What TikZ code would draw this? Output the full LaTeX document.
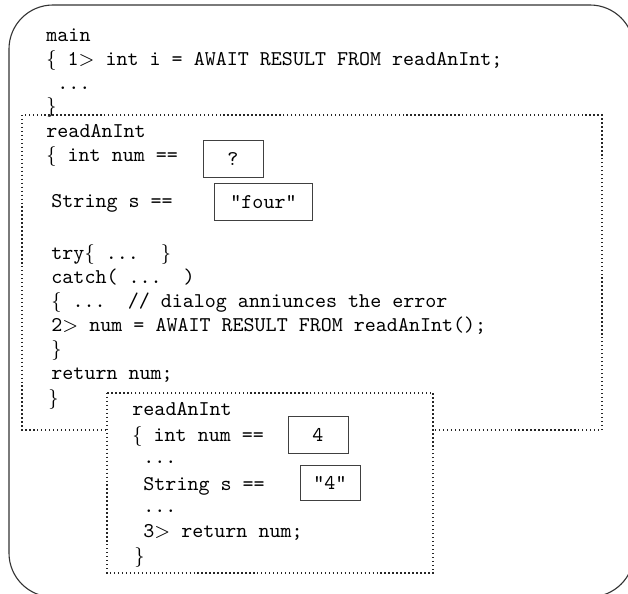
\documentclass[tikz,border=0pt]{standalone}
\usepackage{fontspec}
\newcommand\codefont{\fontsize{9.5}{11}\selectfont\ttfamily}
\begin{document}
\begin{tikzpicture}[x=0.4525pt,y=-0.4525pt,
  code/.style={anchor=base west,inner sep=0pt,font=\codefont},
  frame/.style={draw=black!80,line width=0.5pt},
  dotframe/.style={draw=black!85,line width=0.6pt,dash pattern=on 0.6pt off 1.2pt},
  valbox/.style={draw=black!75,line width=0.45pt,inner sep=0pt,font=\codefont,
    minimum height=16.3pt}]
\useasboundingbox (0,0) rectangle (628,594);
\clip (0,0) rectangle (628,594);

% outer frame (runs past the right and bottom edges)
\draw[frame,rounded corners=19.9pt] (9,5) rectangle (634,597);

% main
\node[code] (m1) at (46,42) {main};
\node[code] (m2) at (46,65.5) {$\{$ 1$>$ int i = AWAIT RESULT FROM readAnInt;};
\node[code] (m3) at (57,89) {...};
\node[code] (m4) at (46,112.5) {$\}$};

% first call of readAnInt
\draw[dotframe] (22,115) rectangle (602,430);
\node[code] (a1) at (46,138) {readAnInt};
\node[code] (a2) at (46,161) {$\{$ int num ==};
\node[valbox,minimum width=27.15pt] (av1) at (233,159) {?};
\node[code] (a3) at (51,207) {String s ==};
\node[valbox,minimum width=43.9pt] (av2) at (263.5,202) {"four"};
\node[code] (a4) at (51,259) {try$\{$ ...\ \ $\}$};
\node[code] (a5) at (51,283) {catch( ...\ \ )};
\node[code] (a6) at (51,307) {$\{$ ...\ \ // dialog anniunces the error};
\node[code] (a7) at (51,331) {2$>$ num = AWAIT RESULT FROM readAnInt();};
\node[code] (a8) at (51,355) {$\}$};
\node[code] (a9) at (51,379) {return num;};
\node[code] (a10) at (48,404) {$\}$};

% second call of readAnInt
\draw[dotframe,fill=white] (107,393) rectangle (433,573);
\node[code] (b1) at (132,415) {readAnInt};
\node[code] (b2) at (132,441) {$\{$ int num ==};
\node[valbox,minimum width=27.15pt] (bv1) at (318,435) {4};
\node[code] (b3) at (143,463.5) {...};
\node[code] (b4) at (143,490) {String s ==};
\node[valbox,minimum width=27.15pt,minimum height=15.8pt] (bv2) at (330,483) {"4"};
\node[code] (b5) at (143,512.5) {...};
\node[code] (b6) at (143,537) {3$>$ return num;};
\node[code] (b7) at (134,562) {$\}$};
\end{tikzpicture}
\end{document}
